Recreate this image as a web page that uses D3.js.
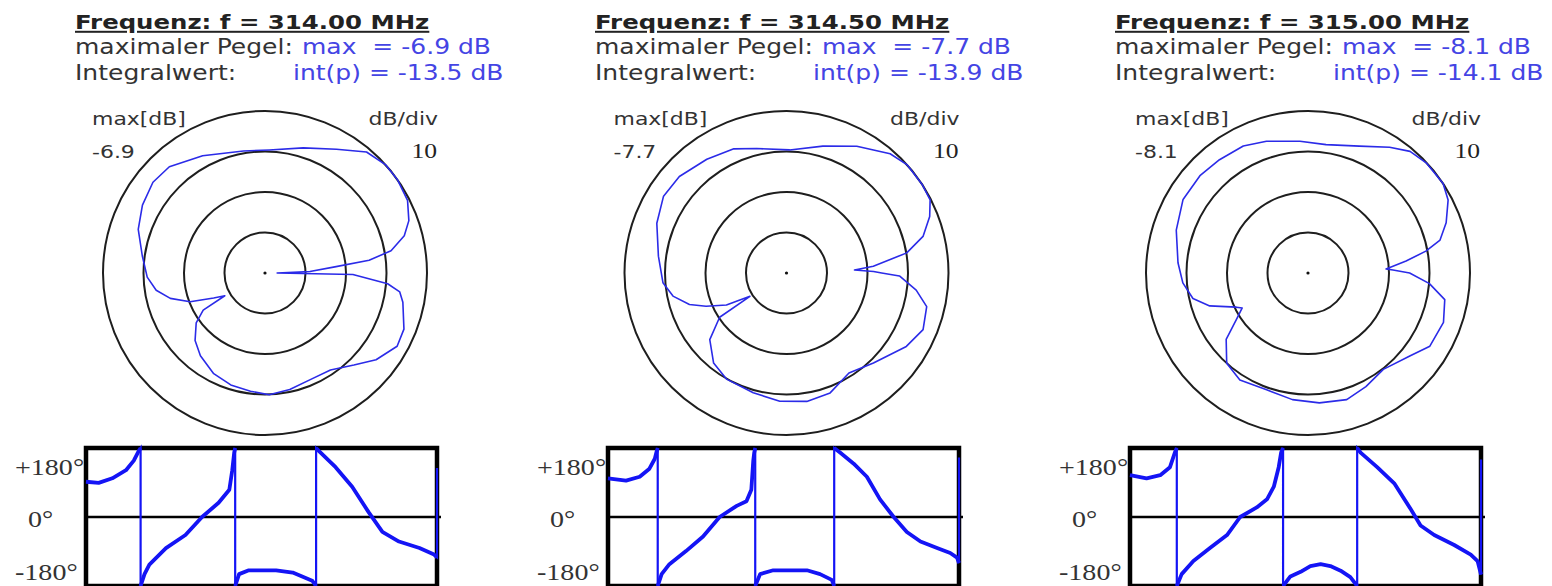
<!DOCTYPE html>
<html>
<head>
<meta charset="utf-8">
<script src="https://cdn.jsdelivr.net/npm/d3@7"></script>
<style>
  body { margin: 0; background: #fff; }
  text { white-space: pre; }
</style>
</head>
<body>
<script>
// drei Messungen, je Frequenz ein Block
var freqs = ["314.00", "314.50", "315.00"];
var maxLevel = ["-6.9", "-7.7", "-8.1"];
var intLevel = ["-13.5", "-13.9", "-14.1"];
var dbPerDiv = 10;
var rings = [0, -10, -20, -30];
var phaseTicks = ["+180°", "0°", "-180°"];

// Richtdiagramm: Winkel in Grad (0 = rechts, gegen Uhrzeigersinn), Pegel in dB unter max
var angle314 = [0, 2, 5, 7, 10, 15, 20, 27, 35, 42, 50, 60, 73, 88, 100, 118, 132, 141, 151, 161,
  172, 182, 189, 195, 201, 206, 209.5, 211, 216, 224, 232, 243, 253, 263, 272, 282, 293, 304, 314, 322,
  331, 338, 348, 352, 355, 359];
var level314 = [-37.0, -28.9, -22.7, -14.1, -8.4, -4.4, -2.2, -0.5, 0, 0, -1.0, -4.7, -7.7, -9.6, -9.4,
  -7.2, -4.7, -4.4, -5.4, -6.9, -9.4, -10.9, -12.8, -15.8, -20.2, -25.9, -28.6, -22.2, -19.0, -16.0,
  -14.1, -12.1, -11.1, -10.6, -9.9, -10.6, -11.4, -11.1, -8.4, -5.2, -2.7, -3.0, -5.2, -6.4, -9.6, -18.3];

var angle3145 = [0, 1, 2.5, 4.5, 9.5, 15, 21.5, 27, 33, 42, 49, 61, 74, 88.5, 103.5, 113, 125, 138, 148, 159,
  172.5, 184.5, 191.5, 198, 202.5, 208, 210, 212.5, 213.5, 221, 231, 240.5, 254.5, 267, 279, 290, 302, 314,
  328.5, 337.5, 346.5, 352.5, 358.5];
var level3145 = [-16.5, -18.5, -23.2, -18.5, -9.9, -5.1, -2.0, -0.2, 0, 0, -1.0, -4.2, -7.4, -9.6, -8.4,
  -6.7, -5.7, -4.4, -4.2, -5.7, -8.1, -9.4, -11.4, -14.8, -18.5, -23.2, -26.7, -29.3, -20.2, -14.9,
  -11.4, -9.9, -9.3, -8.3, -7.9, -8.5, -10.9, -9.1, -5.3, -3.5, -4.4, -7.7, -12.1];

var angle315 = [0, 2, 3, 7, 10.5, 14, 20, 27.5, 33.5, 43, 50, 57, 68, 82, 93.5, 107.5, 117, 128, 138, 149.5,
  162, 175.5, 184.5, 192.5, 198.5, 205.5, 208, 213, 219, 228, 237.5, 250.5, 263, 275, 287, 297, 308, 321,
  329, 340, 349, 355];
var level315 = [-14.9, -19.0, -20.7, -15.6, -10.4, -6.4, -3.7, -1.0, 0, -0.1, -0.8, -3.0, -6.2, -8.0, -7.4,
  -5.9, -4.8, -4.5, -4.1, -4.2, -5.8, -7.8, -9.0, -10.9, -14.4, -20.4, -21.6, -18.9, -14.0, -10.0,
  -8.7, -9.4, -8.5, -7.8, -7.3, -8.5, -9.8, -7.5, -4.9, -4.4, -5.6, -9.9];

// Phase ueber Winkel (Sprung = gleicher Winkel zweimal)
var phaseAngle314 = [0, 13, 27, 41, 49, 54, 56, 56, 60, 65, 82, 102, 119, 136, 147, 150, 152, 153, 153, 157,
  167, 195, 212, 232, 236, 236, 239, 256, 273, 290, 304, 321, 342, 357, 360, 360];
var phase314 = [92, 89, 101, 122, 147, 172, 180, -180, -149, -124, -81, -47, 0, 37, 71, 122, 168, 180, -180, -149,
  -139, -139, -145, -166, -180, 180, 172, 130, 79, 12, -39, -64, -81, -98, -105, 128];

var phaseAngle3145 = [0, 18.5, 32.5, 42.5, 48, 50, 51, 51, 55, 63, 80, 97.5, 114.5, 132, 142, 147, 149, 150, 151, 151,
  156, 169.5, 204, 217.5, 229.5, 232, 232, 238, 252, 265.5, 279, 293, 306.5, 320.5, 337.5, 351, 358, 360, 360];
var phase3145 = [101, 95, 105, 126, 152, 172, 180, -180, -149, -123, -89, -51, 0, 29, 41, 71, 147, 168, 180, -180,
  -149, -139, -139, -149, -164, -180, 180, 168, 139, 105, 46, 0, -39, -64, -81, -94, -106, -120, 155];

var phaseAngle315 = [0, 17, 31, 41, 46, 48, 48, 53, 65, 82, 99.5, 113, 130, 140.5, 147.5, 152.5, 155, 157, 157,
  164.5, 175, 185, 195.5, 205.5, 216, 226, 233, 233, 236.5, 253.5, 271, 288, 298, 312, 332.5, 349.5, 356.5, 360, 360];
var phase315 = [109, 101, 109, 130, 168, 180, -180, -149, -115, -81, -47, 0, 25, 46, 79, 130, 168, 180, -180,
  -155, -143, -128, -123, -128, -140, -157, -180, 180, 168, 130, 88, 20, -22, -47, -73, -98, -115, -150, 150];

var panels = [
  { freq: freqs[0], max: maxLevel[0], integ: intLevel[0], ang: angle314, lvl: level314, pAng: phaseAngle314, ph: phase314 },
  { freq: freqs[1], max: maxLevel[1], integ: intLevel[1], ang: angle3145, lvl: level3145, pAng: phaseAngle3145, ph: phase3145 },
  { freq: freqs[2], max: maxLevel[2], integ: intLevel[2], ang: angle315, lvl: level315, pAng: phaseAngle315, ph: phase315 }
];

var w = 1552;
var h = 586;
var sx = 1.22; // Schrift im Bild ist breit gezogen
var sans = "'DejaVu Sans', Verdana, sans-serif";
var serif = "'Liberation Serif', 'Times New Roman', serif";
var blue = "#4444e4";

var svg = d3.select("body").append("svg").attr("width", w).attr("height", h);

function addText(x, y, str, size, family, color, anchor, weight) {
  return svg.append("text")
    .attr("transform", "translate(" + x + "," + y + ") scale(" + sx + ",1)")
    .attr("text-anchor", anchor || "start")
    .style("font-family", family)
    .style("font-size", size + "px")
    .style("font-weight", weight || "normal")
    .style("fill", color)
    .text(str);
}

var rScale = d3.scaleLinear().domain([-40, 0]).range([0, 162]).clamp(true);
var yPhase = d3.scaleLinear().domain([-180, 180]).range([586, 448]);

panels.forEach(function(p, i) {
  var tx = 75 + i * 520;
  var cx = 265 + i * 521.5;
  var cy = 273;
  var bx = 86 + i * 522;
  var bw = 351;

  // Kopf
  addText(tx, 29, "Frequenz: f = " + p.freq + " MHz", 20, sans, "#222", "start", "bold")
    .style("text-decoration", "underline");
  addText(tx, 54, "maximaler Pegel:", 20.5, sans, "#333");
  addText(tx + 227, 54, "max  = " + p.max + " dB", 20.5, sans, blue);
  addText(tx, 80, "Integralwert:", 20.5, sans, "#333");
  addText(tx + 218, 80, "int(p) = " + p.integ + " dB", 20.5, sans, blue);

  // Polardiagramm
  var g = svg.append("g").attr("transform", "translate(" + cx + "," + cy + ")");

  g.selectAll("circle.ring")
    .data(rings)
    .enter()
    .append("circle")
    .attr("class", "ring")
    .attr("r", function(d) { return rScale(d); })
    .attr("fill", "none")
    .attr("stroke", "#1e1e1e")
    .attr("stroke-width", 2);

  g.append("circle").attr("r", 1.6).attr("fill", "#111");

  var pts = p.ang.map(function(a, k) { return { a: a, v: p.lvl[k] }; });
  var radial = d3.lineRadial()
    .angle(function(d) { return (90 - d.a) * Math.PI / 180; })
    .radius(function(d) { return rScale(d.v); })
    .curve(d3.curveLinearClosed);

  g.append("path")
    .attr("d", radial(pts))
    .attr("fill", "none")
    .attr("stroke", "#2b2be8")
    .attr("stroke-width", 1.6)
    .attr("stroke-linejoin", "round");

  addText(cx - 173, 125, "max[dB]", 18, sans, "#333");
  addText(cx - 173, 158, p.max, 18, sans, "#333");
  addText(cx + 173, 125, "dB/div", 18, sans, "#333", "end");
  addText(cx + 172, 158, String(dbPerDiv), 21, serif, "#222", "end");

  // Phasendiagramm
  var xPhase = d3.scaleLinear().domain([0, 360]).range([bx, bx + bw]);

  svg.append("rect")
    .attr("x", bx)
    .attr("y", yPhase(180))
    .attr("width", bw)
    .attr("height", yPhase(-180) - yPhase(180))
    .attr("fill", "none")
    .attr("stroke", "#000")
    .attr("stroke-width", 4.5);

  svg.append("line")
    .attr("x1", bx)
    .attr("x2", bx + bw + 4)
    .attr("y1", yPhase(0))
    .attr("y2", yPhase(0))
    .attr("stroke", "#000")
    .attr("stroke-width", 2.5);

  var ppts = p.pAng.map(function(a, k) { return { a: a, v: p.ph[k] }; });
  var line = d3.line()
    .x(function(d) { return xPhase(d.a); })
    .y(function(d) { return yPhase(d.v); });

  // Spruenge duenn, Kurvenstuecke dick
  svg.append("path")
    .attr("d", line(ppts))
    .attr("fill", "none")
    .attr("stroke", "#1414f5")
    .attr("stroke-width", 2.2);

  var segs = [];
  var cur = [ppts[0]];
  for (var k = 1; k < ppts.length; k++) {
    if (ppts[k].a == ppts[k - 1].a) {
      segs.push(cur);
      cur = [ppts[k]];
    } else {
      cur.push(ppts[k]);
    }
  }
  segs.push(cur);

  svg.selectAll("path.seg" + i)
    .data(segs.filter(function(s) { return s.length > 1; }))
    .enter()
    .append("path")
    .attr("class", "seg" + i)
    .attr("d", line)
    .attr("fill", "none")
    .attr("stroke", "#1414f5")
    .attr("stroke-width", 3.8)
    .attr("stroke-linejoin", "round");

  addText(bx - 71, yPhase(180) + 27, phaseTicks[0], 23, serif, "#333");
  addText(bx - 58, yPhase(0) + 10, phaseTicks[1], 23, serif, "#333");
  addText(bx - 71, yPhase(-180) - 6, phaseTicks[2], 23, serif, "#333");
});
</script>
</body>
</html>
